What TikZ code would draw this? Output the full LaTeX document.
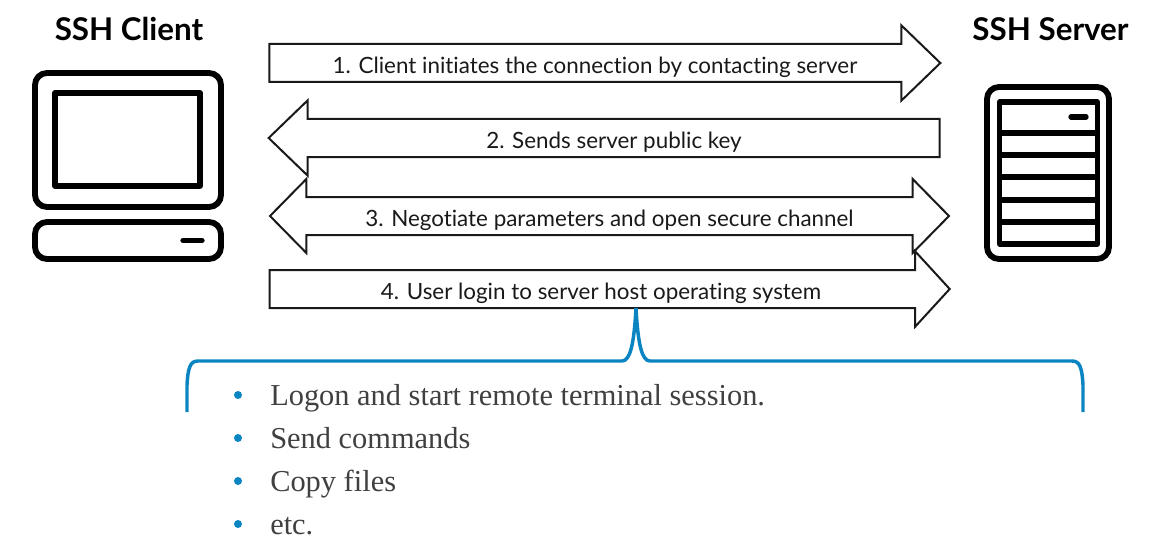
\documentclass[tikz,border=0pt]{standalone}
\usepackage{fontspec}
\setmainfont{Liberation Serif}
\newfontfamily\labelfont[Ligatures=NoCommon]{Lato}
\usetikzlibrary{shapes.arrows}
\definecolor{bracketblue}{HTML}{0B85C2}
\definecolor{listgrey}{HTML}{404040}
\tikzset{
	x=0.75pt, y=-0.75pt,
	msgbase/.style={draw=black!90, line width=1.5pt, inner sep=0pt, outer sep=0pt, text height=21.4pt, text depth=5.6pt,
		font=\labelfont\fontsize{16.8}{20}\selectfont, text=black!90},
	rightmsg/.style={msgbase, single arrow, single arrow head indent=0pt, single arrow tip angle=88, single arrow head extend=14pt},
	leftmsg/.style={rightmsg, shape border rotate=180},
	bothmsg/.style={msgbase, double arrow, double arrow head indent=0pt, double arrow tip angle=91, double arrow head extend=13.5pt},
	title/.style={anchor=base, font=\labelfont\bfseries\fontsize{23.5}{28}\selectfont, text=black, inner sep=0pt},
	listtext/.style={anchor=base west, font=\fontsize{22.8}{27}\selectfont, text=listgrey, inner sep=0pt},
	listdot/.style={circle, fill=bracketblue, inner sep=0pt, minimum size=6pt},
	icon/.style={draw=black, line width=4.4pt, rounded corners=9pt},
	iconline/.style={draw=black, line width=3.8pt},
	iconmark/.style={draw=black, line width=4pt, line cap=round},
}
\begin{document}
\begin{tikzpicture}
	\useasboundingbox (0,0) rectangle (1168,542);
	% titles
	\node[title] (client) at (129,41) {SSH Client};
	\node[title] (server) at (1050.5,41) {SSH Server};
	% client computer
	\draw[icon] (35,73) rectangle (221,207);
	\draw[iconline, line join=round] (55,93) rectangle (200,186);
	\draw[icon] (35,222) rectangle (221,259);
	\draw[iconmark] (183,240.5) -- (202,240.5);
	% server box
	\draw[icon] (987,87) rectangle (1109,259);
	\draw[iconline, line join=round] (999.5,102) rectangle (1097.5,244);
	\foreach \y in {133,155,177,200,222}
		\draw[iconline] (999.5,\y) -- (1097.5,\y);
	\draw[iconmark] (1071,117) -- (1086,117);
	% messages
	\node[rightmsg, minimum height=503.25pt] (msg1) at (595,63) {1. Client initiates the connection by contacting server};
	\node[leftmsg, minimum height=503.25pt] (msg2) at (614,138) {2. Sends server public key};
	\node[bothmsg, minimum height=509.25pt] (msg3) at (609.5,216) {3. Negotiate parameters and open secure channel};
	\node[rightmsg, single arrow tip angle=95, minimum height=510pt] (msg4) at (601,289) {4. User login to server host operating system};
	% bracket
	\coordinate (top) at (636,308);
	\draw[bracketblue, line width=2.6pt] (187,412) -- (187,385) .. controls (188,368) and (190,361) .. (198,361)
		-- (622,361) .. controls (630,361) and (634,345) .. (top)
		.. controls (638,345) and (642,361) .. (650,361)
		-- (1072,361) .. controls (1080,361) and (1082,368) .. (1083,385) -- (1083,412);
	% list
	\foreach \n/\y/\t in {1/405/Logon and start remote terminal session.,2/448/Send commands,3/491/Copy files,4/534/etc.}{
		\node[listdot] (dot\n) at (238,\y-10) {};
		\node[listtext] (item\n) at (270,\y) {\t};
	}
\end{tikzpicture}
\end{document}
